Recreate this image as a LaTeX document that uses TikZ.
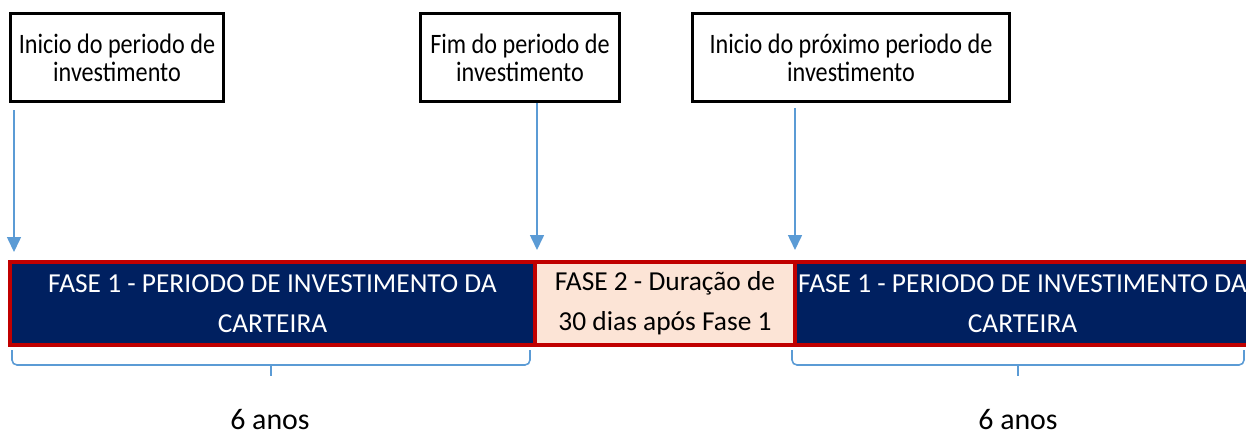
\documentclass[tikz,border=0pt]{standalone}
\usepackage{fontspec}
\setmainfont{Carlito}
\newfontfamily\boxfont[FakeStretch=0.86]{Carlito}
\usetikzlibrary{arrows.meta}
\definecolor{navyfill}{HTML}{002060}
\definecolor{peachfill}{HTML}{FCE4D6}
\definecolor{redline}{HTML}{C00000}
\definecolor{blueline}{HTML}{5B9BD5}
\tikzset{
  infobox/.style={draw=black, line width=1.7pt, fill=white, align=center, inner sep=0pt,
    minimum height=1.78cm, font=\boxfont\fontsize{16}{15.8}\selectfont},
  phaseone/.style={draw=redline, fill=navyfill, text=white, line width=2.3pt, align=center,
    inner sep=0pt, minimum height=1.66cm, font=\fontsize{15.6}{22.7}\selectfont},
  phasetwo/.style={phaseone, fill=peachfill, text=black},
  timearrow/.style={draw=blueline, line width=0.9pt, -{Triangle[width=0.28cm,length=0.3cm]}},
  spanbrace/.style={draw=blueline, line width=0.9pt, rounded corners=0.1cm},
  duration/.style={font=\fontsize{17}{20}\selectfont, inner sep=0pt}
}
\begin{document}
\begin{tikzpicture}[x=0.02cm, y=-0.02cm]
\useasboundingbox (0,0) rectangle (1246,436);
\clip (0,0) rectangle (1246,436);
% caixas de marcos
\node[infobox, minimum width=4.28cm] (inicio) at (117,57.5) {Inicio do periodo de\\investimento};
\node[infobox, minimum width=4.0cm] (fim) at (520,57.5) {Fim do periodo de\\investimento};
\node[infobox, minimum width=6.36cm] (proximo) at (851,57.5) {Inicio do próximo periodo de\\investimento};
% barra das fases
\node[phaseone, minimum width=10.5cm] (fase1) at (272.5,303.5) {FASE 1 - PERIODO DE INVESTIMENTO DA\\CARTEIRA};
\node[phasetwo, minimum width=5.2cm] (fase2) at (665,303.5) {FASE 2 - Duração de\\30 dias após Fase 1};
\node[phaseone, minimum width=9.1cm] (fase1b) at (1022.5,303.5) {FASE 1 - PERIODO DE INVESTIMENTO DA\\CARTEIRA};
% setas
\coordinate (tip1) at (14,252);
\coordinate (tip2) at (537,250);
\coordinate (tip3) at (795,250);
\draw[timearrow, shorten <=0.14cm] (inicio.south -| tip1) -- (tip1);
\draw[timearrow] (fim.south -| tip2) -- (tip2);
\draw[timearrow, shorten <=0.1cm] (proximo.south -| tip3) -- (tip3);
% chaves
\coordinate (b1l) at (12,350);
\coordinate (b1m) at (271,365);
\coordinate (b1r) at (530,350);
\coordinate (b2l) at (792,350);
\coordinate (b2m) at (1018,365);
\coordinate (b2r) at (1244,350);
\draw[spanbrace] (b1l) |- (b1m) -| (b1r);
\draw[spanbrace] (b1m) -- ++(0,11);
\draw[spanbrace] (b2l) |- (b2m) -| (b2r);
\draw[spanbrace] (b2m) -- ++(0,11);
\node[duration] (anos1) at (270,420) {6 anos};
\node[duration] (anos2) at (1018,420) {6 anos};
\end{tikzpicture}
\end{document}
